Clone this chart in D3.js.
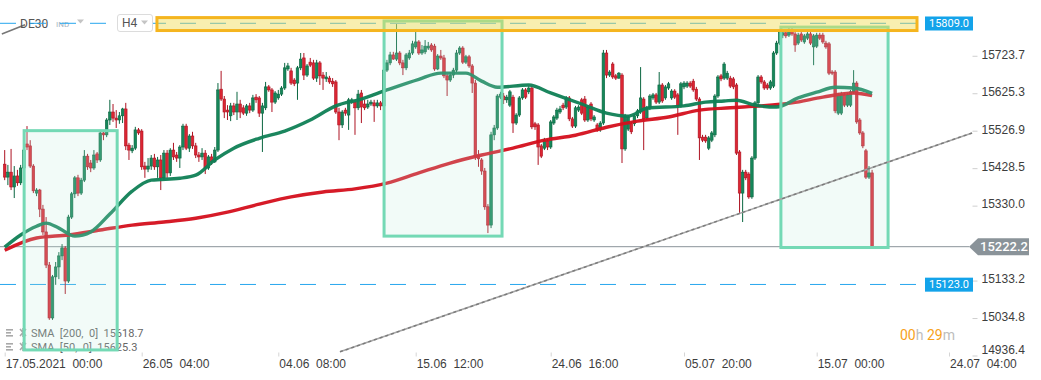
<!DOCTYPE html>
<html>
<head>
<meta charset="utf-8">
<script src="https://cdn.jsdelivr.net/npm/d3@7"></script>
<style>
  body { margin: 0; background: #fff; }
  svg { display: block; font-family: Roboto, "Noto Sans", sans-serif; }
  text { white-space: pre; }
</style>
</head>
<body>
<svg id="chart" width="1041" height="380"></svg>
<script>
// DE30 H4 candles, 17.05.2021 -> 19.07.2021
const opens = [
  15439,15405,15418,15379,15408,15390,15429,15492,15487,15434,
  15363,15371,15321,15261,15174,15035,15143,15169,15198,15219,
  15132,15300,15361,15403,15363,15397,15460,15442,15429,15466,
  15450,15521,15516,15555,15576,15560,15555,15566,15584,15489,
  15474,15481,15529,15526,15434,15426,15434,15455,15432,15450,
  15403,15468,15416,15476,15463,15455,15484,15539,15481,15513,
  15487,15463,15458,15468,15429,15458,15445,15476,15636,15610,
  15581,15566,15592,15576,15597,15587,15573,15592,15581,15615,
  15613,15573,15587,15642,15634,15602,15613,15623,15639,15689,
  15684,15660,15652,15692,15718,15673,15707,15705,15665,15705,
  15673,15663,15665,15657,15655,15576,15542,15581,15568,15602,
  15602,15587,15626,15597,15589,15597,15600,15592,15600,15592,
  15686,15705,15726,15715,15731,15705,15692,15718,15731,15747,
  15760,15731,15734,15744,15752,15749,15689,15723,15718,15671,
  15660,15673,15686,15731,15744,15707,15721,15697,15652,15463,
  15450,15421,15327,15279,15516,15534,15615,15618,15608,15594,
  15615,15547,15568,15613,15634,15629,15639,15545,15542,15487,
  15481,15500,15484,15547,15560,15576,15594,15589,15613,15558,
  15539,15581,15608,15610,15555,15597,15555,15542,15529,15547,
  15731,15673,15702,15671,15665,15673,15479,15531,15545,15545,
  15566,15576,15610,15560,15587,15613,15621,15602,15647,15613,
  15639,15613,15631,15621,15592,15642,15644,15652,15657,15636,
  15610,15510,15510,15481,15502,15516,15618,15671,15665,15665,
  15665,15663,15647,15471,15363,15418,15413,15353,15455,15600,
  15668,15655,15647,15639,15644,15731,15757,15778,15784,15778,
  15791,15781,15757,15781,15760,15770,15781,15747,15749,15778,
  15778,15757,15755,15681,15681,15573,15573,15621,15594,15594,
  15629,15652,15555,15521,15474,15405,15416
];
const highs = [
  15476,15437,15479,15434,15424,15437,15502,15539,15502,15439,
  15376,15374,15332,15300,15182,15148,15182,15208,15229,15224,
  15306,15366,15408,15411,15403,15476,15466,15450,15476,15471,
  15529,15526,15560,15608,15597,15581,15576,15587,15600,15495,
  15489,15537,15534,15531,15445,15455,15463,15466,15458,15463,
  15476,15476,15481,15495,15471,15489,15545,15545,15518,15524,
  15495,15471,15481,15476,15463,15466,15484,15652,15684,15618,
  15594,15600,15600,15629,15608,15594,15597,15600,15621,15623,
  15618,15600,15655,15647,15639,15631,15634,15644,15705,15705,
  15692,15665,15697,15731,15731,15702,15718,15713,15713,15710,
  15681,15681,15671,15665,15660,15587,15581,15587,15613,15613,
  15608,15634,15634,15608,15608,15608,15608,15608,15605,15699,
  15713,15734,15734,15807,15736,15713,15731,15739,15763,15794,
  15765,15752,15765,15760,15757,15755,15728,15739,15726,15676,
  15681,15692,15739,15749,15749,15726,15726,15702,15660,15476,
  15455,15429,15334,15524,15542,15623,15629,15626,15621,15634,
  15621,15573,15618,15639,15639,15644,15644,15550,15547,15492,
  15508,15505,15555,15568,15587,15592,15600,15618,15618,15563,
  15592,15594,15613,15618,15594,15602,15568,15547,15552,15739,
  15739,15686,15707,15676,15681,15678,15571,15568,15550,15571,
  15584,15694,15615,15592,15623,15626,15626,15681,15652,15647,
  15655,15636,15636,15626,15655,15657,15657,15657,15663,15642,
  15615,15516,15516,15513,15526,15623,15673,15676,15707,15684,
  15671,15668,15652,15476,15424,15424,15418,15460,15605,15673,
  15673,15660,15652,15660,15736,15763,15791,15791,15789,15797,
  15797,15786,15784,15786,15781,15786,15786,15781,15784,15784,
  15784,15763,15760,15686,15686,15626,15629,15626,15626,15634,
  15686,15657,15560,15526,15479,15434,15424
];
const lows = [
  15397,15384,15371,15350,15382,15384,15418,15476,15429,15363,
  15355,15300,15253,15166,15030,15030,15122,15137,15187,15098,
  15127,15295,15350,15355,15358,15392,15424,15418,15424,15442,
  15445,15502,15510,15542,15550,15534,15545,15547,15476,15450,
  15468,15476,15516,15424,15403,15418,15424,15424,15403,15371,
  15397,15403,15408,15450,15445,15429,15476,15476,15471,15479,
  15455,15445,15450,15413,15424,15437,15442,15471,15605,15560,
  15555,15552,15568,15555,15560,15568,15566,15573,15576,15600,
  15563,15471,15581,15629,15576,15597,15608,15618,15634,15684,
  15647,15644,15608,15686,15660,15668,15694,15660,15655,15647,
  15634,15655,15650,15642,15571,15502,15534,15566,15529,15597,
  15516,15581,15547,15581,15584,15592,15550,15587,15581,15587,
  15681,15699,15713,15710,15699,15673,15686,15713,15726,15742,
  15726,15726,15728,15739,15734,15684,15686,15713,15665,15618,
  15655,15665,15681,15726,15702,15702,15692,15626,15450,15432,
  15411,15319,15258,15271,15502,15529,15610,15597,15600,15589,
  15521,15542,15563,15608,15610,15623,15531,15529,15437,15455,
  15476,15476,15479,15542,15555,15571,15581,15584,15552,15534,
  15534,15576,15568,15550,15550,15552,15550,15524,15524,15542,
  15665,15668,15663,15660,15663,15442,15474,15526,15518,15539,
  15560,15571,15476,15555,15581,15608,15597,15597,15600,15608,
  15634,15608,15610,15516,15587,15636,15639,15639,15629,15605,
  15450,15497,15495,15476,15497,15510,15613,15657,15660,15660,
  15639,15636,15463,15311,15287,15397,15348,15348,15450,15594,
  15650,15634,15634,15634,15639,15726,15752,15770,15770,15773,
  15776,15734,15752,15760,15755,15765,15752,15699,15744,15765,
  15755,15742,15673,15673,15573,15568,15568,15589,15589,15589,
  15623,15545,15516,15481,15400,15400,15221
];
const closes = [
  15405,15418,15379,15408,15390,15429,15476,15484,15434,15369,
  15371,15321,15261,15174,15035,15143,15169,15198,15219,15132,
  15300,15361,15403,15363,15397,15460,15432,15429,15463,15450,
  15521,15516,15555,15576,15560,15555,15566,15584,15487,15476,
  15481,15529,15521,15432,15426,15434,15455,15432,15450,15403,
  15468,15416,15476,15458,15455,15484,15539,15481,15513,15487,
  15463,15458,15468,15429,15458,15445,15476,15634,15610,15576,
  15576,15592,15576,15597,15576,15573,15592,15581,15613,15608,
  15573,15592,15642,15634,15602,15626,15623,15639,15692,15697,
  15652,15650,15692,15715,15673,15697,15699,15665,15705,15671,
  15665,15668,15655,15650,15576,15542,15576,15573,15608,15608,
  15587,15623,15589,15587,15597,15602,15592,15600,15592,15686,
  15705,15726,15715,15731,15705,15692,15726,15731,15755,15760,
  15731,15739,15749,15749,15739,15689,15723,15718,15671,15660,
  15673,15686,15731,15744,15707,15721,15697,15652,15458,15453,
  15421,15327,15279,15516,15534,15618,15623,15608,15615,15629,
  15547,15568,15613,15634,15615,15639,15537,15537,15484,15460,
  15502,15484,15550,15563,15581,15584,15587,15613,15558,15539,
  15587,15589,15573,15555,15589,15558,15563,15529,15547,15731,
  15673,15681,15668,15665,15678,15479,15566,15563,15524,15566,
  15579,15613,15558,15587,15618,15621,15602,15647,15605,15642,
  15650,15631,15615,15592,15650,15652,15652,15644,15634,15610,
  15508,15502,15500,15508,15521,15618,15668,15663,15702,15678,
  15644,15642,15468,15363,15418,15403,15353,15455,15600,15668,
  15655,15639,15639,15655,15731,15757,15786,15784,15776,15791,
  15781,15752,15778,15765,15776,15781,15757,15776,15778,15770,
  15760,15747,15678,15678,15579,15621,15623,15594,15621,15629,
  15652,15550,15521,15487,15405,15416,15222.2
];

// moving averages, sampled at bar indexes
const sma200Idx = [0,10,20,30,40,50,60,70,80,90,100,110,120,130,140,150,160,170,180,190,200,210,220,230,240,250,260,270,276];
const sma200 = [15213,15245,15253,15266,15279,15287,15297,15313,15334,15353,15366,15374,15389,15416,15442,15463,15481,15502,15515,15536,15552,15563,15581,15587,15592,15600,15615,15626,15619];
const sma50Idx = [0,5,10,13,17,22,27,33,40,46,55,60,66,72,80,88,96,104,112,120,130,137,145,150,155,165,172,182,190,197,203,215,222,228,232,238,245,252,258,264,270,276];
const sma50 = [15221,15253,15276,15284,15271,15250,15261,15308,15368,15397,15402,15410,15450,15481,15507,15526,15555,15592,15610,15634,15662,15678,15678,15657,15641,15647,15626,15597,15573,15565,15586,15592,15602,15605,15607,15594,15589,15613,15628,15641,15639,15625];

// axis ticks
const xTickIdx = [0, 43, 86, 129, 172, 215, 258, 301];
const xTickLabels = ['17.05.2021  00:00', '26.05  04:00', '04.06  08:00', '15.06  12:00',
  '24.06  16:00', '05.07  20:00', '15.07  00:00', '24.07  04:00'];
const yTickValues = [15723.7, 15625.3, 15526.9, 15428.5, 15330.0, 15133.2, 15034.8, 14936.4];

// price levels and drawings
const lastPrice = 15222.2;
const levelPrices = [15809.0, 15123.0];
const zoneBox = [47.8, 290.6, 15824, 15790];           // [fromIdx, toIdx, top, bottom]
const rangeBoxes = [[6.1, 35.3, 15527, 14951], [119.1, 156.5, 15815, 15250], [246.4, 281.2, 15799, 15220]];
const trendLines = [[105.3, 14946, 308.5, 15521], [-0.9, 15781, 6.4, 15805]];
const legendRows = [['SMA  [200,  0]  ', '15618.7'], ['SMA  [50,  0]  ', '15625.3']];

const svg = d3.select('#chart');
const xTickPos = [4.7, 141.7, 278.3, 415.7, 550.7, 684, 816.7, 949];
const x = d3.scaleLinear().domain(xTickIdx).range(xTickPos);
const y = d3.scaleLinear().domain([14936.4, 15809]).range([355.5, 23.3]);

const up = { fill: '#16875a', line: '#0a6640' };
const dn = { fill: '#dc2633', line: '#ad1322' };

// legend (sits under the drawings)
const lg = svg.append('g');
legendRows.forEach((r, i) => {
  const by = 337 + i * 14;
  const ic = lg.append('g').attr('fill', '#a9a9a9');
  [0, 3, 6].forEach(k => ic.append('rect').attr('x', 6).attr('y', by - 8 + k).attr('width', k === 3 ? 5 : 7).attr('height', 1.6));
  ic.append('path').attr('d', `M20,${by - 8} l6,7 M26,${by - 8} l-6,7 M23,${by - 9} v9`)
    .attr('stroke', '#a9a9a9').attr('stroke-width', 1.6);
  lg.append('text').attr('x', 31).attr('y', by).attr('font-size', 11).attr('fill', '#666')
    .text(r[0] + r[1]);
});

// header
svg.append('path').attr('d', `M${x(trendLines[1][0])},${y(trendLines[1][1])}L${x(trendLines[1][2])},${y(trendLines[1][3])}`)
  .attr('stroke', '#777').attr('stroke-width', 1.6);
svg.append('text').attr('x', 20).attr('y', 28).attr('font-size', 12).attr('fill', '#555').text('DE30');
svg.append('text').attr('x', 56).attr('y', 27).attr('font-size', 8).attr('fill', '#a3b3bf').text('IND');
svg.append('path').attr('d', 'M77,19.5h7l-3.5,4z').attr('fill', '#c4c4c4');

// horizontal price lines
const plotRight = 918;
levelPrices.forEach(p => {
  svg.append('line').attr('x1', 0).attr('x2', plotRight).attr('y1', y(p)).attr('y2', y(p))
    .attr('stroke', '#27a7ee').attr('stroke-width', 1).attr('stroke-dasharray', '16,14');
});
svg.append('line').attr('x1', 0).attr('x2', 969).attr('y1', y(lastPrice)).attr('y2', y(lastPrice))
  .attr('stroke', '#8a9399').attr('stroke-width', 1);

// H4 selector
svg.append('rect').attr('x', 117.5).attr('y', 14.5).attr('width', 35).attr('height', 17).attr('rx', 2.5)
  .attr('fill', '#fff').attr('stroke', '#dcdcdc');
svg.append('text').attr('x', 122).attr('y', 27).attr('font-size', 12).attr('fill', '#555').text('H4');
svg.append('path').attr('d', 'M141,20.5h7l-3.5,4z').attr('fill', '#c4c4c4');

// candles
const idx = d3.range(closes.length);
const bw = 2.6;
const cg = svg.append('g');
cg.selectAll('line').data(idx).join('line')
  .attr('x1', i => x(i)).attr('x2', i => x(i))
  .attr('y1', i => y(highs[i])).attr('y2', i => y(lows[i]))
  .attr('stroke', i => (closes[i] >= opens[i] ? up : dn).line).attr('stroke-width', 1);
cg.selectAll('rect').data(idx).join('rect')
  .attr('x', i => x(i) - bw / 2)
  .attr('width', bw)
  .attr('y', i => y(Math.max(opens[i], closes[i])))
  .attr('height', i => Math.max(1, Math.abs(y(opens[i]) - y(closes[i]))))
  .attr('fill', i => (closes[i] >= opens[i] ? up : dn).fill)
  .attr('stroke', i => (closes[i] >= opens[i] ? up : dn).line)
  .attr('stroke-width', 0.6);

// moving averages
const smaLine = d3.line().x(d => x(d[0])).y(d => y(d[1])).curve(d3.curveMonotoneX);
svg.append('path').datum(sma200Idx.map((d, i) => [d, sma200[i]])).attr('d', smaLine)
  .attr('fill', 'none').attr('stroke', '#d40f1c').attr('stroke-width', 3.4).attr('stroke-opacity', 0.95);
svg.append('path').datum(sma50Idx.map((d, i) => [d, sma50[i]])).attr('d', smaLine)
  .attr('fill', 'none').attr('stroke', '#0f7f55').attr('stroke-width', 3.4).attr('stroke-opacity', 0.95);

// range boxes
rangeBoxes.forEach(b => {
  svg.append('rect').attr('x', x(b[0])).attr('y', y(b[2]))
    .attr('width', x(b[1]) - x(b[0])).attr('height', y(b[3]) - y(b[2]))
    .attr('fill', 'rgba(190,235,218,0.2)').attr('stroke', '#74d9b5').attr('stroke-width', 3);
});

// resistance zone
svg.append('rect').attr('x', x(zoneBox[0])).attr('y', y(zoneBox[2]))
  .attr('width', x(zoneBox[1]) - x(zoneBox[0])).attr('height', y(zoneBox[3]) - y(zoneBox[2]))
  .attr('fill', 'rgba(240,220,80,0.45)').attr('stroke', '#f5b51f').attr('stroke-width', 3);

// trend line
const t = trendLines[0];
const tl = `M${x(t[0])},${y(t[1])}L${x(t[2])},${y(t[3])}`;
svg.append('path').attr('d', tl).attr('stroke', '#a6a6a6').attr('stroke-width', 1.6);
svg.append('path').attr('d', tl).attr('stroke', '#555').attr('stroke-width', 1.6)
  .attr('stroke-dasharray', '3,3').attr('stroke-opacity', 0.55);

// y axis
const yAxis = svg.append('g').attr('transform', 'translate(972.5,0)')
  .call(d3.axisRight(y).tickValues(yTickValues).tickSize(5).tickPadding(4).tickFormat(d3.format('.1f')));
yAxis.select('.domain').remove();
yAxis.selectAll('line').attr('stroke', '#cfcfcf');
yAxis.selectAll('text').attr('font-size', 12).attr('fill', '#3d3d3d').attr('font-family', null)
  .attr('y', d => Math.min(-1.5, 350 - y(d)));

// x axis
const xAxis = svg.append('g').attr('transform', 'translate(0,352.5)')
  .call(d3.axisBottom(x).tickValues(xTickIdx).tickSize(4).tickPadding(3).tickFormat((d, i) => xTickLabels[i]));
xAxis.select('.domain').remove();
xAxis.selectAll('line').attr('stroke', '#d5d5d5');
xAxis.selectAll('text').attr('font-size', 12).attr('fill', '#3d3d3d').attr('font-family', null)
  .attr('text-anchor', 'start').attr('x', 0.5);

// level labels
levelPrices.forEach(p => {
  svg.append('rect').attr('x', 925).attr('y', y(p) - 6.8).attr('width', 48).attr('height', 14).attr('fill', '#13a3ea');
  svg.append('text').attr('x', 949).attr('y', y(p) + 4).attr('text-anchor', 'middle')
    .attr('font-size', 11).attr('fill', '#fff').text(p.toFixed(1));
});

// last price marker
const py = y(lastPrice);
svg.append('path').attr('d', `M969,${py}L978,${py - 8.5}H1029V${py + 8.5}H978Z`).attr('fill', '#8a9399');
svg.append('text').attr('x', 1004).attr('y', py + 4.5).attr('text-anchor', 'middle')
  .attr('font-size', 13).attr('font-weight', 500).attr('fill', '#fff').text(lastPrice.toFixed(1));

// candle timer
const tm = svg.append('text').attr('x', 900).attr('y', 340).attr('font-size', 14);
tm.append('tspan').attr('fill', '#f7a21b').text('00');
tm.append('tspan').attr('fill', '#bdbdbd').text('h ');
tm.append('tspan').attr('fill', '#f7a21b').text('29');
tm.append('tspan').attr('fill', '#bdbdbd').text('m');
</script>
</body>
</html>
